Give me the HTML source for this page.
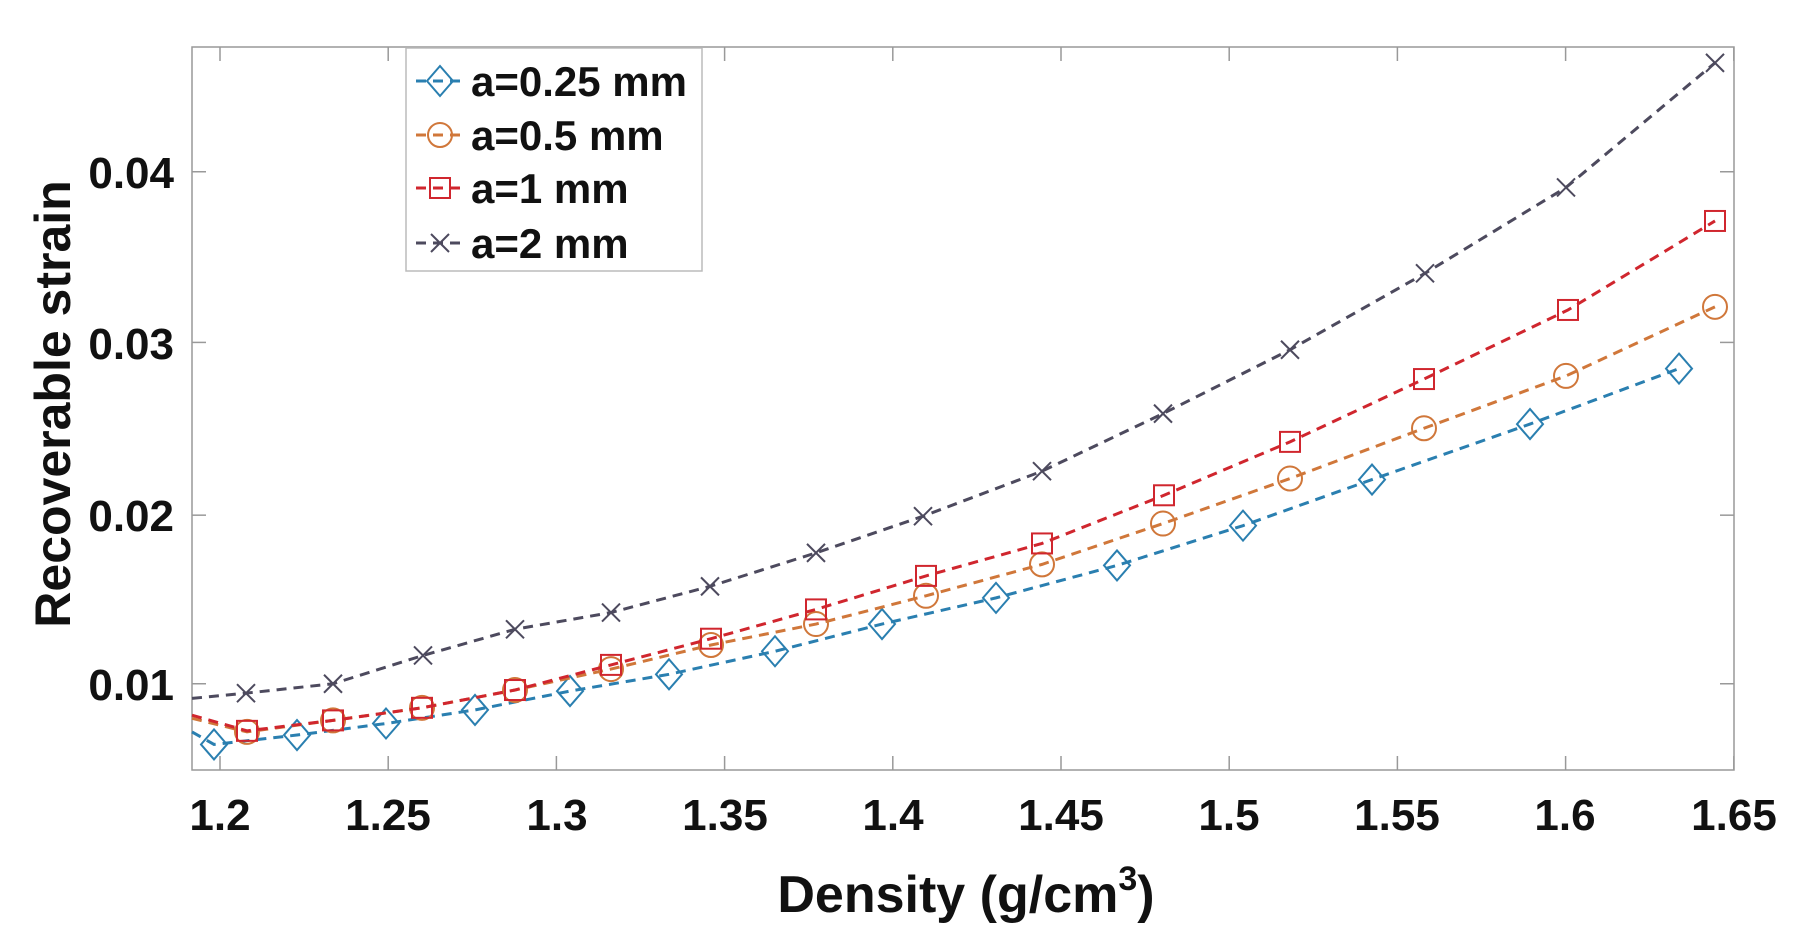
<!DOCTYPE html>
<html><head><meta charset="utf-8"><style>
body{margin:0;background:#fff;width:1802px;height:934px;overflow:hidden}
text{font-family:"Liberation Sans",Arial,sans-serif;font-weight:bold;fill:#111}
</style></head><body>
<svg id="s" width="1802" height="934" xmlns="http://www.w3.org/2000/svg">
<rect x="192" y="47" width="1542" height="723" fill="#fff" stroke="#999" stroke-width="1.5"/>
<g id="ticks" stroke="#999" stroke-width="1.5"></g>
<g id="series"></g>
<g font-size="44" text-anchor="middle">
<text x="220" y="830">1.2</text><text x="388" y="830">1.25</text><text x="557" y="830">1.3</text>
<text x="725" y="830">1.35</text><text x="893" y="830">1.4</text><text x="1061" y="830">1.45</text>
<text x="1229" y="830">1.5</text><text x="1397" y="830">1.55</text><text x="1565" y="830">1.6</text>
<text x="1734" y="830">1.65</text>
</g>
<g font-size="44" text-anchor="end">
<text x="174" y="188">0.04</text><text x="174" y="359">0.03</text>
<text x="174" y="531">0.02</text><text x="174" y="700">0.01</text>
</g>
<text x="966" y="912" font-size="52" text-anchor="middle">Density (g/cm<tspan font-size="34" dy="-22">3</tspan><tspan dy="22">)</tspan></text>
<text transform="translate(70,404) rotate(-90)" font-size="50" text-anchor="middle">Recoverable strain</text>
<rect x="406" y="48" width="296" height="223" fill="#fff" stroke="#bbb" stroke-width="1.5"/>
<g id="leg"></g>
<g font-size="42">
<text x="471" y="96">a=0.25 mm</text><text x="471" y="150">a=0.5 mm</text>
<text x="471" y="203">a=1 mm</text><text x="471" y="258">a=2 mm</text>
</g>
</svg>
<script>
var NS="http://www.w3.org/2000/svg";
function el(p,t,a){var e=document.createElementNS(NS,t);for(var k in a)e.setAttribute(k,a[k]);p.appendChild(e);return e;}
function Y(y){return 1.047*y-1;}
var tk=document.getElementById('ticks');
for(var i=0;i<10;i++){var x=220+i*168.2;el(tk,'line',{x1:x,y1:770,x2:x,y2:756});el(tk,'line',{x1:x,y1:47,x2:x,y2:61});}
[165,328,493,654].forEach(function(y){y=Y(y);el(tk,'line',{x1:192,y1:y,x2:206,y2:y});el(tk,'line',{x1:1734,y1:y,x2:1720,y2:y});});
var S=[
 {c:'#2a7fb0',m:'d',p:[[192,700],[214,712],[297,703],[386,692],[475,679],[570,661],[669,645],[775,623],[882,597],[996,572],[1117,541],[1243,503],[1372,459],[1530,406],[1679,353]]},
 {c:'#d0773a',m:'o',p:[[192,687],[247,700],[333,689],[422,677],[515,660],[611,640],[711,617],[816,597],[926,570],[1042,540],[1163,501],[1290,458],[1424,410],[1566,360],[1715,294]]},
 {c:'#d0262e',m:'s',p:[[192,684],[247,699],[333,689],[422,677],[515,660],[611,636],[711,611],[816,583],[926,551],[1042,520],[1164,474],[1290,423],[1424,363],[1568,297],[1715,212]]},
 {c:'#4d4a5e',m:'x',p:[[192,668],[246,663],[333,654],[423,627],[515,602],[611,586],[710,561],[816,529],[923,494],[1042,451],[1163,396],[1290,335],[1425,262],[1566,180],[1715,61]]}
];
S.forEach(function(s){s.p=s.p.map(function(q){return [q[0],Y(q[1])];});});
var g=document.getElementById('series');
function marker(p,m,x,y,c){
 var a={fill:'none',stroke:c,'stroke-width':2};
 if(m=='d'){a.points=[x,y-15,x+13,y,x,y+15,x-13,y].join(' ');el(p,'polygon',a);}
 else if(m=='o'){a.cx=x;a.cy=y;a.r=12;el(p,'circle',a);}
 else if(m=='s'){a.x=x-10;a.y=y-10;a.width=20;a.height=20;el(p,'rect',a);}
 else {el(p,'path',{d:'M'+(x-9)+' '+(y-9)+'L'+(x+9)+' '+(y+9)+'M'+(x-9)+' '+(y+9)+'L'+(x+9)+' '+(y-9),stroke:c,'stroke-width':2});}
}
S.forEach(function(s){
 el(g,'polyline',{points:s.p.map(function(q){return q.join(',')}).join(' '),fill:'none',stroke:s.c,'stroke-width':3,'stroke-dasharray':'10 7'});
 for(var i=1;i<s.p.length;i++)marker(g,s.m,s.p[i][0],s.p[i][1],s.c);
});
var lg=document.getElementById('leg');
[81,135,188,243].forEach(function(y,i){var s=S[i];
 el(lg,'line',{x1:416,y1:y,x2:460,y2:y,stroke:s.c,'stroke-width':3,'stroke-dasharray':'10 7'});
 marker(lg,s.m,440,y,s.c);});
</script>
</body></html>
